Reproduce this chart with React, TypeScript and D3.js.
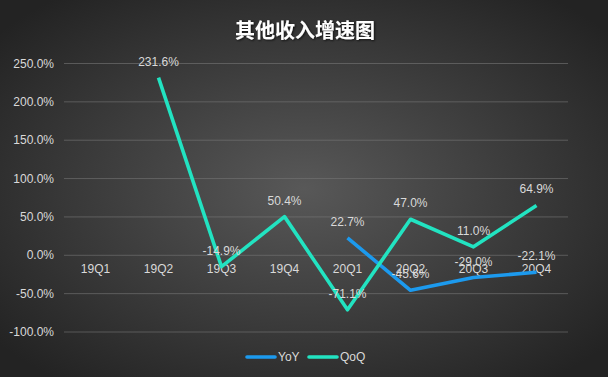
import React from "react";
import * as d3 from "d3";

const categories = ["19Q1", "19Q2", "19Q3", "19Q4", "20Q1", "20Q2", "20Q3", "20Q4"];
const yoyValues: (number | null)[] = [null, null, null, null, 22.7, -45.6, -29.0, -22.1];
const qoqValues: (number | null)[] = [null, 231.6, -14.9, 50.4, -71.1, 47.0, 11.0, 64.9];
const yTicks = [-100, -50, 0, 50, 100, 150, 200, 250];
const title = "其他收入增速图";

const W = 608;
const H = 377;
const m = { left: 64, right: 40, top: 63.5, bottom: 45 };

export default function App() {
  const x = d3.scaleBand<string>().domain(categories).range([m.left, W - m.right]);
  const y = d3.scaleLinear().domain([-100, 250]).range([332, 63.5]);
  const cx = (c: string) => (x(c) as number) + x.bandwidth() / 2;

  const line = d3
    .line<[string, number | null]>()
    .defined((d) => d[1] !== null)
    .x((d) => cx(d[0]))
    .y((d) => y(d[1] as number));

  const series = [
    { name: "YoY", values: yoyValues, color: "#1C9AEE" },
    { name: "QoQ", values: qoqValues, color: "#22E3C1" },
  ];

  const font = "'Liberation Sans', Arial, sans-serif";

  return (
    <svg width={W} height={H} style={{ position: "absolute", left: 0, top: 0 }}>
      <defs>
        <radialGradient id="bg" cx="50%" cy="50%" r="65%">
          <stop offset="0%" stopColor="#585858" />
          <stop offset="100%" stopColor="#232323" />
        </radialGradient>
        <filter id="shadow" x="-10%" y="-30%" width="120%" height="160%">
          <feDropShadow dx="1" dy="1" stdDeviation="1" floodColor="#000" floodOpacity="0.7" />
        </filter>
      </defs>
      <rect x={0} y={0} width={W} height={H} fill="url(#bg)" />
      <text
        x={W / 2 + 1}
        y={38}
        textAnchor="middle"
        fill="#ffffff"
        fontSize={20}
        fontWeight="bold"
        fontFamily="'Noto Sans CJK SC', sans-serif"
        filter="url(#shadow)"
      >
        {title}
      </text>
      {yTicks.map((t) => (
        <g key={t}>
          <line x1={m.left} x2={W - m.right} y1={y(t)} y2={y(t)} stroke="#777777" strokeWidth={0.6} />
          <text
            x={54}
            y={y(t) + 4}
            textAnchor="end"
            fill="#d9d9d9"
            fontSize={12}
            fontFamily={font}
          >
            {t.toFixed(1) + "%"}
          </text>
        </g>
      ))}
      {categories.map((c) => (
        <text
          key={c}
          x={cx(c)}
          y={y(0) + 18}
          textAnchor="middle"
          fill="#d9d9d9"
          fontSize={12}
          fontFamily={font}
        >
          {c}
        </text>
      ))}
      {series.map((s) => (
        <path
          key={s.name}
          d={line(categories.map((c, i) => [c, s.values[i]] as [string, number | null])) || ""}
          fill="none"
          stroke={s.color}
          strokeWidth={3.6}
          strokeLinejoin="round"
        />
      ))}
      {series.map((s) =>
        categories.map((c, i) =>
          s.values[i] === null ? null : (
            <text
              key={s.name + c}
              x={cx(c)}
              y={y(s.values[i] as number) - 12}
              textAnchor="middle"
              fill="#d9d9d9"
              fontSize={12}
              fontFamily={font}
            >
              {(s.values[i] as number).toFixed(1) + "%"}
            </text>
          )
        )
      )}
      {series.map((s, i) => {
        const lx = 247 + i * 62;
        return (
          <g key={s.name}>
            <line x1={lx} x2={lx + 28} y1={357} y2={357} stroke={s.color} strokeWidth={3.6} strokeLinecap="round" />
            <text x={lx + 31} y={361} fill="#d9d9d9" fontSize={12} fontFamily={font}>
              {s.name}
            </text>
          </g>
        );
      })}
    </svg>
  );
}
